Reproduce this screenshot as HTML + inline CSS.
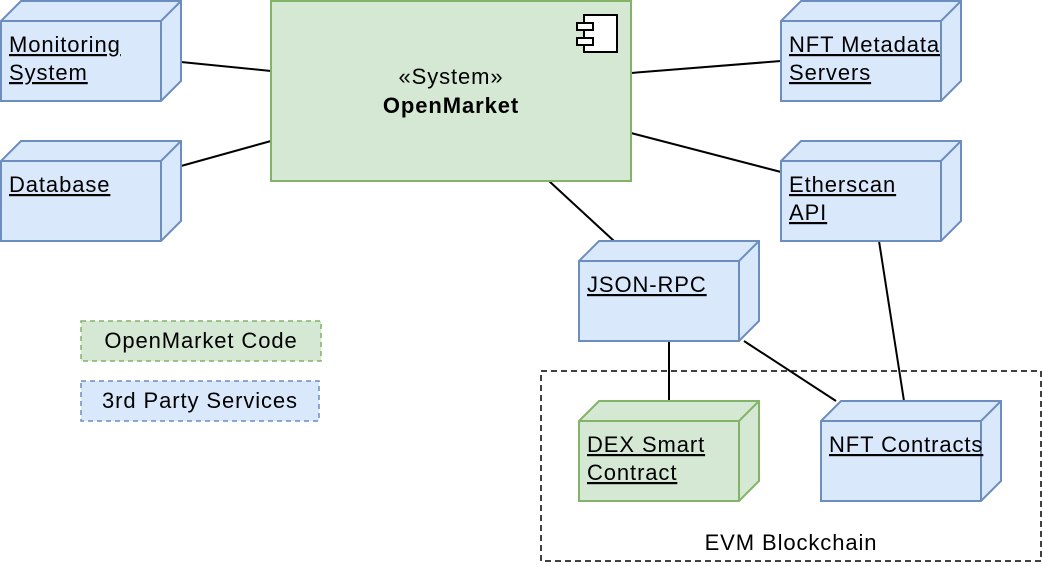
<!DOCTYPE html>
<html><head><meta charset="utf-8"><style>
html,body{margin:0;padding:0;background:#fff}
svg text{font-family:"Liberation Sans",Arial,Helvetica,sans-serif;font-size:22px;letter-spacing:0.9px;fill:#000}
.u{text-decoration:underline}
</style></head><body>
<svg width="1042" height="562" viewBox="0 0 1042 562" xmlns="http://www.w3.org/2000/svg">
<defs>
<g id="nb">
<path d="M0,0 L20,-20 L180,-20 L180,60 L160,80 L0,80 Z" fill="#dae8fc" stroke="#6c8ebf" stroke-width="2"/>
<path d="M0,0 L160,0 L180,-20 M160,0 L160,80" fill="none" stroke="#6c8ebf" stroke-width="2"/>
</g>
<g id="ng">
<path d="M0,0 L20,-20 L180,-20 L180,60 L160,80 L0,80 Z" fill="#d5e8d4" stroke="#82b366" stroke-width="2"/>
<path d="M0,0 L160,0 L180,-20 M160,0 L160,80" fill="none" stroke="#82b366" stroke-width="2"/>
</g>
</defs>
<g stroke="#000" stroke-width="2" fill="none">
<line x1="181" y1="62" x2="271" y2="71"/>
<line x1="181" y1="166" x2="271" y2="141"/>
<line x1="631" y1="73" x2="781" y2="61"/>
<line x1="631" y1="133" x2="781" y2="172"/>
<line x1="549" y1="181" x2="614" y2="241"/>
<line x1="879" y1="241" x2="904" y2="401"/>
<line x1="669" y1="341" x2="669" y2="401"/>
<line x1="744" y1="341" x2="836" y2="401"/>
</g>
<rect x="541" y="371" width="500" height="190" fill="none" stroke="#000" stroke-width="1.5" stroke-dasharray="6,4"/>
<text x="791" y="550" text-anchor="middle">EVM Blockchain</text>
<rect x="271" y="1" width="360" height="180" fill="#d5e8d4" stroke="#82b366" stroke-width="2"/>
<rect x="584" y="15" width="33" height="37" fill="#fff" stroke="#000" stroke-width="2"/>
<rect x="577" y="23" width="16" height="7" fill="#fff" stroke="#000" stroke-width="2"/>
<rect x="577" y="38" width="16" height="7" fill="#fff" stroke="#000" stroke-width="2"/>
<text x="451" y="84" text-anchor="middle">«System»</text>
<text x="451" y="113" text-anchor="middle" font-weight="bold">OpenMarket</text>
<use href="#nb" x="1" y="21"/>
<text x="9" y="52" class="u">Monitoring</text><text x="9" y="80" class="u">System</text>
<use href="#nb" x="1" y="161"/>
<text x="9" y="192" class="u">Database</text>
<use href="#nb" x="781" y="21"/>
<text x="789" y="52" class="u">NFT Metadata</text><text x="789" y="80" class="u">Servers</text>
<use href="#nb" x="781" y="161"/>
<text x="789" y="192" class="u">Etherscan </text><text x="789" y="220" class="u">API</text>
<use href="#nb" x="579" y="261"/>
<text x="587" y="292" class="u">JSON-RPC</text>
<use href="#ng" x="579" y="421"/>
<text x="587" y="452" class="u">DEX Smart </text><text x="587" y="480" class="u">Contract</text>
<use href="#nb" x="821" y="421"/>
<text x="829" y="452" class="u">NFT Contracts</text>
<rect x="81" y="321" width="240" height="40" fill="#d5e8d4" stroke="#82b366" stroke-width="1.5" stroke-dasharray="5,4"/>
<text x="201" y="348" text-anchor="middle">OpenMarket Code</text>
<rect x="81" y="381" width="238" height="40" fill="#dae8fc" stroke="#6c8ebf" stroke-width="1.5" stroke-dasharray="5,4"/>
<text x="200" y="408" text-anchor="middle">3rd Party Services</text>
</svg>
</body></html>
